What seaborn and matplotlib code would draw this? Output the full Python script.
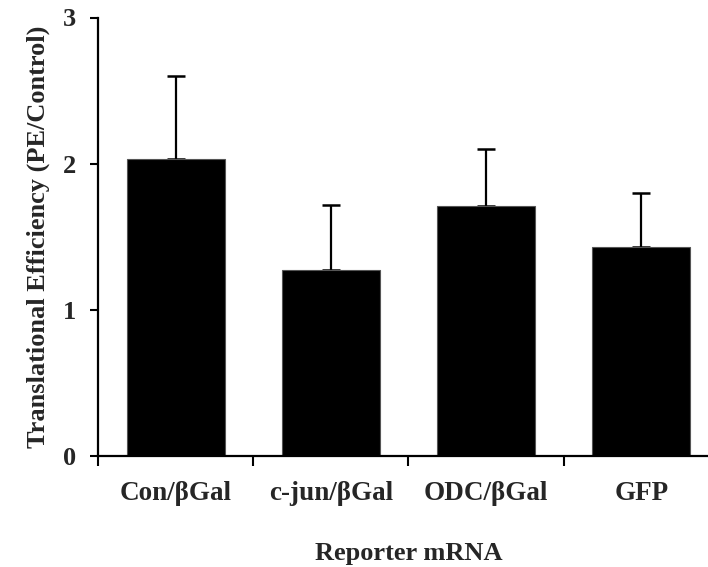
import matplotlib
matplotlib.use("Agg")
import matplotlib.pyplot as plt
import seaborn as sns
import numpy as np
import pandas as pd

categories = ["Con/βGal", "c-jun/βGal", "ODC/βGal", "GFP"]
means = [2.03, 1.27, 1.71, 1.43]
upper_err = [0.57, 0.445, 0.39, 0.37]
yticks = [0, 1, 2, 3]

sns.set_style("white")
plt.rcParams['font.family'] = ['Liberation Serif', 'DejaVu Serif']
plt.rcParams['font.weight'] = 'bold'

fig = plt.figure(figsize=(7.08, 5.67), dpi=100)
ax = fig.add_axes([98/708, 1-456/567, (719-98)/708, (456-17.5)/567])

df = pd.DataFrame({"cat": categories, "val": means})
sns.barplot(data=df, x="cat", y="val", color="black", width=0.63, errorbar=None,
            edgecolor="#555555", linewidth=0.8, ax=ax, saturation=1)
ax.errorbar(np.arange(len(categories)), means,
            yerr=[np.zeros(len(means)), upper_err], fmt="none",
            ecolor="black", elinewidth=1.6, capsize=6.5, capthick=1.8, zorder=0)

ax.set_xlim(-0.5, 3.5)
ax.set_ylim(0, 3)
ax.set_yticks(yticks)
ax.set_yticklabels([str(t) for t in yticks], fontsize=19, fontweight='bold')
ax.set_xticks(np.arange(-0.5, 4, 1.0))
ax.set_xticklabels([])
ax.set_xticks(np.arange(len(categories)), minor=True)
ax.set_xticklabels(categories, minor=True, fontsize=19.5, fontweight='bold')
ax.tick_params(axis='x', which='major', direction='out', length=7, width=1.5, color='black', bottom=True)
ax.tick_params(axis='x', which='minor', length=0, pad=18)
ax.tick_params(axis='y', direction='out', length=6, width=1.5, color='black', left=True, pad=10)

for s in ["top", "right"]:
    ax.spines[s].set_visible(False)
for s in ["left", "bottom"]:
    ax.spines[s].set_linewidth(1.6)
    ax.spines[s].set_color("black")

ax.set_xlabel("Reporter mRNA", fontsize=19, fontweight='bold', labelpad=26)
ax.set_ylabel("Translational Efficiency (PE/Control)", fontsize=19, fontweight='bold', labelpad=9)

fig.savefig("out.png", dpi=100)
